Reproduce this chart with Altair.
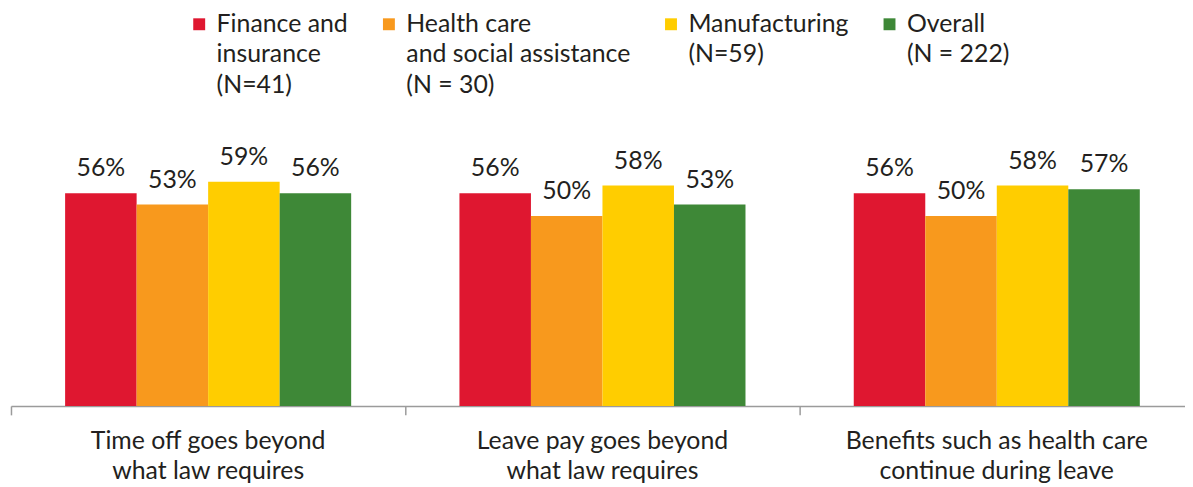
import altair as alt
import pandas as pd

categories = [
    "Time off goes beyond\nwhat law requires",
    "Leave pay goes beyond\nwhat law requires",
    "Benefits such as health care\ncontinue during leave",
]
industries = [
    "Finance and\ninsurance\n(N=41)",
    "Health care\nand social assistance\n(N = 30)",
    "Manufacturing\n(N=59)",
    "Overall\n(N = 222)",
]
finance = [56, 56, 56]
health = [53, 50, 50]
manufacturing = [59, 58, 58]
overall = [56, 53, 57]
colors = ["#DF1730", "#F8991D", "#FFCD00", "#3E8837"]

rows = []
for series, vals in zip(industries, [finance, health, manufacturing, overall]):
    for cat, v in zip(categories, vals):
        rows.append({"category": cat, "industry": series, "value": v})
df = pd.DataFrame(rows)
cat_df = pd.DataFrame({"category": categories})

FONT = "Lato"
TXT = "#231F20"

xenc = alt.X(
    "category:N",
    sort=categories,
    scale=alt.Scale(range=[0, 1191], paddingInner=0, paddingOuter=0),
    axis=alt.Axis(
        title=None, labels=False, bandPosition=0, domainColor="#9b9b9b",
        tickColor="#9b9b9b", tickSize=9, domainWidth=1.5, tickWidth=1.5, grid=False,
    ),
)
xoff = alt.XOffset("industry:N", sort=industries,
                   scale=alt.Scale(paddingInner=0, paddingOuter=0.757))
yenc = alt.Y("value:Q", scale=alt.Scale(domain=[0, 80]), axis=None)

label_expr = (
    "split(datum.label + (length(split(datum.label, '\\n')) < 3 ? '\\n ' : ''), '\\n')"
)

bars = alt.Chart(df).mark_bar().encode(
    x=xenc,
    xOffset=xoff,
    y=yenc,
    color=alt.Color(
        "industry:N",
        sort=industries,
        scale=alt.Scale(domain=industries, range=colors),
        legend=alt.Legend(
            title=None, orient="none", legendX=177, legendY=-91,
            direction="horizontal", symbolType="square", symbolSize=144,
            symbolStrokeWidth=0, symbolOpacity=1, labelFontSize=25, labelFont=FONT,
            labelColor=TXT, labelExpr=label_expr,
            labelLimit=400, columnPadding=28, labelOffset=5, labelBaseline="middle",
        ),
    ),
)

values = alt.Chart(df).transform_calculate(
    label="datum.value + '%'"
).mark_text(
    baseline="alphabetic", dy=-17, fontSize=25, font=FONT, color=TXT
).encode(
    x=xenc,
    xOffset=xoff,
    y=yenc,
    text="label:N",
)

cat_labels = alt.Chart(cat_df).mark_text(
    baseline="alphabetic", fontSize=25, font=FONT, color=TXT,
    lineBreak="\n", lineHeight=30.5,
).encode(
    x=xenc,
    y=alt.value(349),
    text="category:N",
)

chart = alt.layer(bars, values, cat_labels).properties(
    width=1182, height=306,
    autosize=alt.AutoSizeParams(type="none"),
    padding={"left": 3, "top": 93, "right": 0, "bottom": 80},
).configure(
    font=FONT, style={"guide-label": {"lineHeight": 30.5}}
).configure_view(stroke=None)

chart.save("out.html", embed_options={"renderer": "svg", "actions": False})
